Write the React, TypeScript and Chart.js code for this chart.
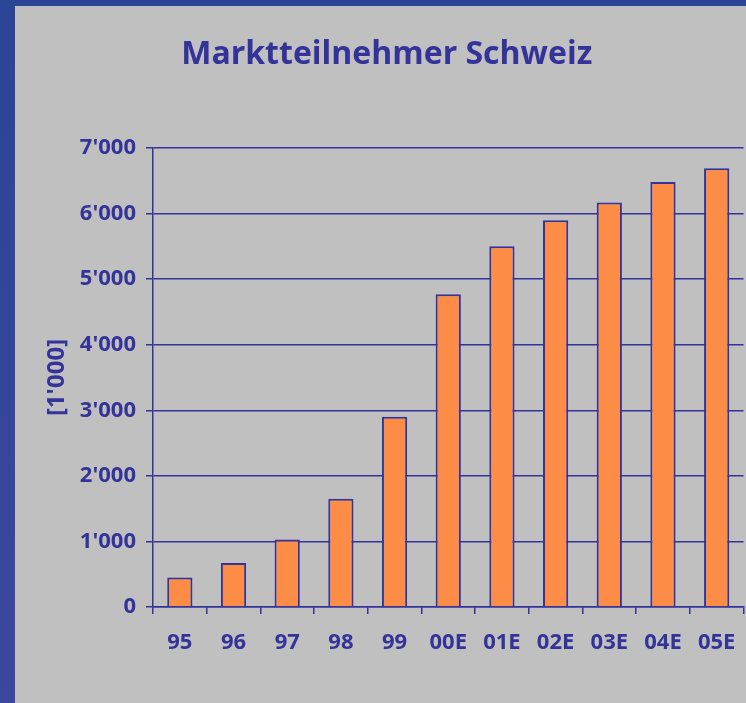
import React, { useEffect, useRef } from "react";
import { Chart, registerables } from "chart.js";

Chart.register(...registerables);

const title = "Marktteilnehmer Schweiz";
const yAxisTitle = "[1'000]";
const categories = ["95", "96", "97", "98", "99", "00E", "01E", "02E", "03E", "04E", "05E"];
const values = [450, 670, 1030, 1650, 2900, 4770, 5500, 5900, 6170, 6480, 6690];
const yTickValues = [0, 1000, 2000, 3000, 4000, 5000, 6000, 7000];
const yTickLabels = ["0", "1'000", "2'000", "3'000", "4'000", "5'000", "6'000", "7'000"];

const INK = "#333399";
const FONT = "'Open Sans', 'Liberation Sans', sans-serif";

export default function App() {
  const ref = useRef<HTMLCanvasElement | null>(null);

  useEffect(() => {
    if (!ref.current) return;
    const chart = new Chart(ref.current, {
      type: "bar",
      data: {
        labels: categories,
        datasets: [
          {
            data: values,
            backgroundColor: "#fd8c46",
            borderColor: INK,
            borderWidth: 2,
            categoryPercentage: 1,
            barPercentage: 0.47,
          },
        ],
      },
      options: {
        responsive: false,
        animation: false,
        layout: { padding: { left: 30, right: 2.5, top: 0, bottom: 0 } },
        plugins: {
          legend: { display: false },
          tooltip: { enabled: false },
          title: {
            display: true,
            text: title,
            color: INK,
            font: { family: FONT, size: 32, weight: "bold" },
            padding: { top: 36, bottom: 73.6 },
          },
        },
        scales: {
          x: {
            grid: {
              offset: true,
              drawOnChartArea: false,
              drawTicks: true,
              tickLength: 7,
              color: INK,
              lineWidth: 1.5,
            },
            border: { display: true, color: INK, width: 1.5 },
            ticks: {
              color: INK,
              font: { family: FONT, size: 22, weight: "bold" },
              padding: 16,
              maxRotation: 0,
              autoSkip: false,
            },
            afterFit: (s: any) => {
              s.height = 96;
              s.paddingLeft = 0;
              s.paddingRight = 0;
            },
          },
          y: {
            min: 0,
            max: 7000,
            afterBuildTicks: (s: any) => {
              s.ticks = yTickValues.map((v) => ({ value: v }));
            },
            grid: {
              color: INK,
              lineWidth: 1.5,
              tickLength: 7,
            },
            border: { display: true, color: INK, width: 1.5 },
            ticks: {
              color: INK,
              font: { family: FONT, size: 22, weight: "bold" },
              padding: 10,
              callback: (v: any) => {
                const i = yTickValues.indexOf(Number(v));
                return i >= 0 ? yTickLabels[i] : "";
              },
            },
            title: {
              display: true,
              text: yAxisTitle,
              color: INK,
              font: { family: FONT, size: 24, weight: "bold" },
              padding: { top: 13, bottom: 0 },
            },
            afterFit: (s: any) => {
              s.width = 123;
            },
          },
        },
      },
    });
    return () => chart.destroy();
  }, []);

  return (
    <div
      style={{
        position: "absolute",
        left: 0,
        top: 0,
        width: 746,
        height: 703,
        background: "linear-gradient(180deg, #2a4596 0%, #3c479e 100%)",
        overflow: "hidden",
      }}
    >
      <div
        style={{
          position: "absolute",
          left: 15,
          top: 6,
          width: 731,
          height: 697,
          background: "#c0c0c0",
        }}
      />
      <canvas
        ref={ref}
        width={746}
        height={703}
        style={{ position: "absolute", left: 0, top: 0, width: 746, height: 703 }}
      />
    </div>
  );
}
